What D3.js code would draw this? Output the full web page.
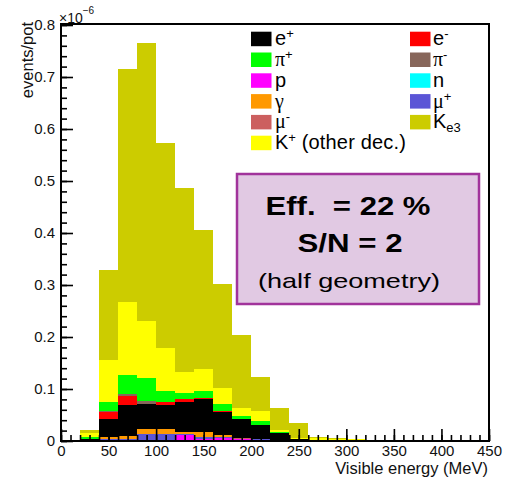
<!DOCTYPE html>
<html>
<head>
<meta charset="utf-8">
<script src="https://cdn.jsdelivr.net/npm/d3@7"></script>
<style>
body { margin: 0; background: #fff; }
text { font-family: "Liberation Sans", Arial, sans-serif; }
</style>
</head>
<body>
<script>
// Histogram bins (20 MeV wide), low edges
const binLow = [20, 40, 60, 80, 100, 120, 140, 160, 180, 200, 220, 240, 260, 280, 300];
const binWidth = 20;

// events/pot (x 1e-6) per bin, one array per particle
const neutron = [0.0008, 0.0008, 0.0008, 0.0008, 0.0008, 0.0008, 0.0008, 0.0008, 0.0008, 0.0008, 0.0008, 0.0008, 0.0008, 0.0005, 0.0005];
const proton  = [0, 0.0007, 0.0007, 0.0012, 0.0012, 0.0107, 0.0032, 0.0056, 0.0022, 0.0012, 0.0002, 0, 0, 0, 0];
const muplus  = [0.0007, 0.0025, 0.0025, 0.0115, 0.0115, 0.002, 0.004, 0.0019, 0, 0.001, 0.001, 0.0002, 0, 0, 0];
const muminus = [0, 0, 0, 0, 0, 0, 0, 0, 0.002, 0, 0, 0, 0, 0, 0];
const gamma   = [0.0005, 0.004, 0.005, 0.009, 0.009, 0.0035, 0.009, 0.0032, 0, 0, 0, 0.0005, 0.0002, 0, 0];
const eplus   = [0.0025, 0.034, 0.060, 0.048, 0.0475, 0.058, 0.064, 0.0449, 0.038, 0.028, 0.0128, 0.0015, 0.0007, 0.0005, 0];
const eminus  = [0, 0.014, 0.018, 0.0015, 0.0044, 0.006, 0.001, 0.0013, 0, 0, 0, 0, 0, 0, 0];
const piminus = [0, 0.002, 0.004, 0.005, 0, 0, 0, 0, 0, 0, 0, 0, 0, 0, 0];
const piplus  = [0.0025, 0.017, 0.035, 0.044, 0.0211, 0.011, 0.015, 0.0128, 0.006, 0.0075, 0.0019, 0.0005, 0.0005, 0, 0];
const kother  = [0.008, 0.081, 0.141, 0.110, 0.0835, 0.040, 0.041, 0.0315, 0.014, 0.0195, 0.0043, 0.0025, 0.003, 0.003, 0.0035];
const ke3     = [0.006, 0.172, 0.448, 0.535, 0.395, 0.355, 0.268, 0.199, 0.141, 0.066, 0.042, 0.029, 0.0025, 0.001, 0.0005];

// axis tick labels
const xTicks = [0, 50, 100, 150, 200, 250, 300, 350, 400, 450];
const yTicks = [0, 0.1, 0.2, 0.3, 0.4, 0.5, 0.6, 0.7, 0.8];

// stacking order, bottom to top
const keys = ["neutron", "proton", "muplus", "muminus", "gamma", "eplus", "eminus", "piminus", "piplus", "kother", "ke3"];
const series = {neutron, proton, muplus, muminus, gamma, eplus, eminus, piminus, piplus, kother, ke3};
const colors = {
    eplus: "#000000", eminus: "#ff0000",
    piplus: "#00ff00", piminus: "#87665a",
    proton: "#ff00ff", neutron: "#00ffff",
    gamma: "#ff9900", muplus: "#5b55d6",
    muminus: "#cc5f5f", ke3: "#cccc00",
    kother: "#ffff00"
};

// legend rows: left and right columns
const legLeft = [
    {key: "eplus", base: "e", sup: "+"},
    {key: "piplus", base: "\u03c0", sup: "+", greek: true},
    {key: "proton", base: "p"},
    {key: "gamma", base: "\u03b3", greek: true},
    {key: "muminus", base: "\u03bc", sup: "-", greek: true},
    {key: "kother", base: "K", sup: "+", rest: " (other dec.)"}
];
const legRight = [
    {key: "eminus", base: "e", sup: "-"},
    {key: "piminus", base: "\u03c0", sup: "-", greek: true},
    {key: "neutron", base: "n"},
    {key: "muplus", base: "\u03bc", sup: "+", greek: true},
    {key: "ke3", base: "K", sub: "e3"}
];

const W = 511, H = 477;
const x = d3.scaleLinear().domain([0, 450]).range([61, 489]);
const y = d3.scaleLinear().domain([0, 0.8]).range([441, 25]);

const svg = d3.select("body").append("svg")
    .attr("width", W)
    .attr("height", H);

const rows = binLow.map((lo, i) => {
    const r = {lo: lo};
    keys.forEach(k => r[k] = series[k][i]);
    return r;
});
const stacked = d3.stack().keys(keys)(rows);

// bars
svg.append("g").selectAll("g")
    .data(stacked)
    .join("g")
    .attr("fill", d => colors[d.key])
    .selectAll("rect")
    .data(d => d)
    .join("rect")
    .attr("x", d => x(d.data.lo))
    .attr("width", d => x(d.data.lo + binWidth) - x(d.data.lo))
    .attr("y", d => y(d[1]))
    .attr("height", d => Math.max(0, y(d[0]) - y(d[1])))
    .attr("shape-rendering", "crispEdges");

// axes, ROOT style: ticks point inside
const fmtY = d => d === 0 ? "0" : d.toFixed(1);

const xMinor = svg.append("g").attr("transform", `translate(0,${y(0)})`)
    .call(d3.axisBottom(x).ticks(45).tickSize(-6).tickFormat(""));
const xMajor = svg.append("g").attr("transform", `translate(0,${y(0)})`)
    .call(d3.axisBottom(x).tickValues(xTicks).tickSize(-12).tickPadding(4));
const yMinor = svg.append("g").attr("transform", `translate(${x(0)},0)`)
    .call(d3.axisLeft(y).ticks(40).tickSize(-6).tickFormat(""));
const yMajor = svg.append("g").attr("transform", `translate(${x(0)},0)`)
    .call(d3.axisLeft(y).tickValues(yTicks).tickSize(-12).tickPadding(6).tickFormat(fmtY));

[xMinor, xMajor, yMinor, yMajor].forEach(a => {
    a.select(".domain").remove();
    a.selectAll(".tick line").attr("stroke", "#000").attr("stroke-width", 1.6);
    a.attr("font-family", "Liberation Sans, Arial, sans-serif").attr("font-size", 15);
    a.selectAll("text").attr("fill", "#111");
});

// frame
svg.append("rect")
    .attr("x", x(0)).attr("y", 24)
    .attr("width", x(450) - x(0)).attr("height", y(0) - 24)
    .attr("fill", "none")
    .attr("stroke", "#000")
    .attr("stroke-width", 2);

// exponent label
const expo = svg.append("text").attr("x", 59).attr("y", 23).attr("font-size", 14).attr("fill", "#111");
expo.append("tspan").text("\u00d710");
expo.append("tspan").attr("dy", -9).attr("font-size", 10).text("\u22126");

// axis titles
svg.append("text")
    .attr("transform", "translate(33,22) rotate(-90)")
    .attr("text-anchor", "end")
    .attr("font-size", 16.5)
    .attr("fill", "#111")
    .text("events/pot");

svg.append("text")
    .attr("x", 488).attr("y", 474)
    .attr("text-anchor", "end")
    .attr("font-size", 16.5)
    .attr("fill", "#111")
    .text("Visible energy (MeV)");

// legend
const rowTop = 31.7, rowStep = 20.8;
function drawLegend(items, swX, txtX) {
    items.forEach((it, i) => {
        const top = rowTop + i * rowStep;
        svg.append("rect")
            .attr("x", swX).attr("y", top)
            .attr("width", 20.5).attr("height", 14.5)
            .attr("fill", colors[it.key]);
        const t = svg.append("text")
            .attr("x", txtX).attr("y", top + 13.5)
            .attr("font-size", 20)
            .attr("fill", "#000");
        t.append("tspan")
            .attr("font-family", it.greek ? "Liberation Serif, serif" : null)
            .text(it.base);
        if (it.sup) {
            t.append("tspan").attr("dy", -7).attr("font-size", 13).text(it.sup);
            if (it.rest) t.append("tspan").attr("dy", 7).attr("textLength", 110).text(it.rest);
        }
        if (it.sub) {
            t.append("tspan").attr("dy", 4).attr("font-size", 13).text(it.sub);
        }
    });
}
drawLegend(legLeft, 251, 275);
drawLegend(legRight, 410, 433);

// efficiency box
svg.append("rect")
    .attr("x", 237).attr("y", 174)
    .attr("width", 242).attr("height", 130)
    .attr("fill", "#e1c9e3")
    .attr("stroke", "#a1339b")
    .attr("stroke-width", 2.5);

const boxText = [
    {txt: "Eff.\u00a0 = 22 %", cx: 348, base: 215, size: 26, weight: "bold", len: 165},
    {txt: "S/N = 2", cx: 350, base: 251.5, size: 26, weight: "bold", len: 105},
    {txt: "(half geometry)", cx: 349, base: 288, size: 21, weight: "normal", len: 182}
];
svg.selectAll("text.box")
    .data(boxText)
    .join("text")
    .attr("class", "box")
    .attr("x", d => d.cx - d.len / 2)
    .attr("y", d => d.base)
    .attr("font-family", "Open Sans, sans-serif")
    .attr("font-size", d => d.size)
    .attr("font-weight", d => d.weight)
    .attr("textLength", d => d.len)
    .attr("lengthAdjust", "spacingAndGlyphs")
    .attr("fill", "#000")
    .text(d => d.txt);
</script>
</body>
</html>
